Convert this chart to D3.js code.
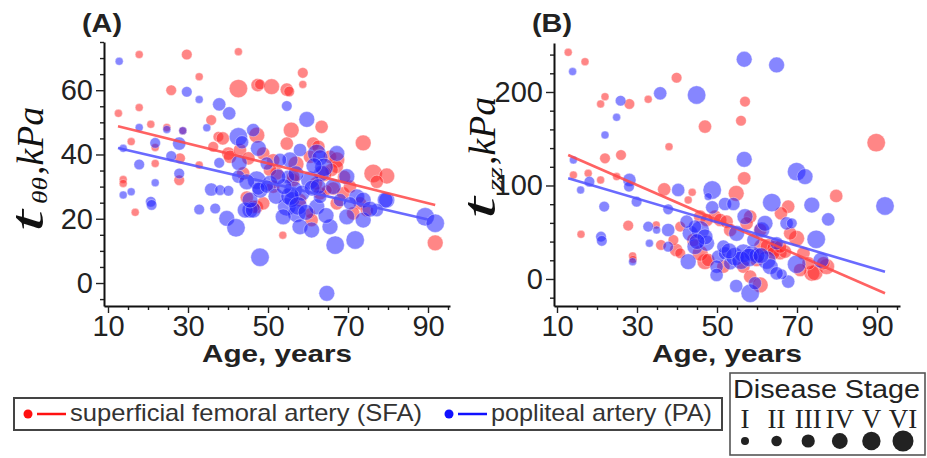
<!DOCTYPE html>
<html>
<head>
<meta charset="utf-8">
<script src="https://cdn.jsdelivr.net/npm/d3@7"></script>
<style>
  body { margin: 0; background: #fff; }
  svg { display: block; }
</style>
</head>
<body>
<svg id="chart" width="927" height="458"></svg>
<script>
/* global d3 */

// panel A: t_theta-theta (kPa) vs age, SFA
var ageA_SFA = [12.6, 17.8, 29.7, 42.6, 32.8, 25.8, 42.6, 47.4, 48.0, 50.9, 54.7, 55.3, 58.7, 58.7, 17.8, 20.7,
  24.7, 15.8, 21.8, 21.8, 13.8, 13.8, 16.8, 27.8, 28.0, 28.7, 35.8, 32.8, 37.6, 36.3, 38.7, 40.1, 40.5, 43.0,
  45.1, 44.7, 47.2, 47.2, 48.8, 55.8, 54.7, 63.4, 61.3, 73.8, 76.3, 79.7, 77.2, 91.8, 53.7, 51.3, 52.2, 50.5,
  60.5, 62.6, 65.5, 67.2, 67.2, 66.3, 63.0, 64.7, 68.8, 70.5, 73.0, 71.3, 74.7, 56.3, 56.3, 65.9, 60.9, 60.5,
  48.8, 46.3, 51.3, 58.0, 67.2, 43.8, 57.0, 64.0, 69.0, 62.0];
var tA_SFA = [52.8, 71.1, 71.1, 72.0, 64.2, 60.0, 60.5, 61.6, 61.8, 61.1, 60.2, 59.6, 65.4, 61.8, 54.6, 49.4,
  48.4, 44.0, 42.2, 37.2, 32.2, 31.0, 22.0, 32.0, 38.8, 47.4, 50.7, 36.7, 45.5, 42.4, 45.0, 40.3, 39.3, 41.4,
  38.8, 26.6, 23.7, 46.0, 40.3, 47.6, 43.4, 48.6, 43.4, 43.6, 34.1, 33.3, 31.5, 12.5, 14.9, 38.2, 34.1, 35.2,
  39.3, 42.4, 39.3, 38.3, 36.2, 29.4, 27.9, 28.9, 27.9, 30.0, 24.8, 21.7, 22.7, 32.0, 33.1, 35.2, 19.6, 21.7,
  24.8, 23.7, 30.0, 25.8, 24.8, 34.1, 37.0, 34.0, 33.0, 31.0];
var stageA_SFA = [1, 1, 2, 1, 1, 2, 5, 3, 2, 4, 3, 2, 2, 1, 1, 1,
  1, 1, 1, 1, 1, 1, 1, 2, 2, 1, 2, 1, 2, 2, 3, 3, 3, 3,
  3, 3, 3, 4, 3, 4, 3, 3, 3, 4, 5, 4, 3, 4, 1, 3, 3, 3,
  3, 3, 3, 4, 3, 3, 3, 2, 3, 3, 3, 3, 3, 3, 3, 3, 3, 2,
  3, 3, 3, 3, 3, 3, 4, 4, 3, 3];

// panel A, PA
var ageA_PA = [12.8, 29.7, 32.8, 37.8, 40.3, 54.7, 59.7, 13.8, 17.8, 17.8, 21.8, 21.8, 20.7, 20.9, 13.8, 15.8,
  24.7, 25.8, 27.8, 27.8, 28.7, 32.8, 34.7, 35.8, 36.8, 38.0, 40.1, 37.8, 39.7, 42.0, 42.6, 43.5, 42.8, 46.3,
  47.6, 45.5, 44.3, 48.0, 64.7, 66.8, 71.8, 89.3, 91.8, 79.7, 62.2, 63.0, 67.2, 58.0, 63.4, 69.7, 55.5, 53.0,
  49.7, 47.2, 50.5, 56.3, 60.5, 66.3, 72.2, 73.8, 79.3, 46.3, 54.7, 57.2, 53.8, 58.0, 62.2, 65.5, 69.7, 73.8,
  77.2, 60.9, 63.0, 68.0, 70.5, 45.5, 48.0, 42.6, 44.7, 47.6, 49.7, 56.0, 58.5, 61.0, 52.0, 55.0, 64.5, 75.5,
  55.5, 57.5, 59.5, 54.0, 62.5, 64.0, 61.5, 52.5, 57.0];
var tA_PA = [69.0, 59.5, 57.1, 55.6, 52.8, 55.1, 50.9, 41.9, 48.4, 36.9, 43.6, 31.2, 25.3, 24.3, 27.4, 28.4,
  47.8, 39.5, 43.4, 34.1, 47.4, 22.9, 48.3, 29.1, 23.2, 28.9, 28.7, 37.4, 20.1, 17.2, 45.5, 43.8, 37.4, 47.6,
  41.9, 22.7, 22.7, 8.0, -3.2, 11.8, 13.4, 20.6, 18.6, 25.8, 40.3, 39.0, 40.3, 41.4, 34.1, 33.1, 38.3, 38.3,
  37.2, 32.0, 31.0, 29.0, 32.0, 30.0, 26.8, 25.8, 25.8, 22.7, 23.7, 21.7, 20.6, 17.5, 23.7, 17.5, 20.6, 19.6,
  22.7, 16.5, 26.8, 25.8, 24.8, 25.8, 28.9, 33.1, 31.5, 29.4, 30.0, 26.0, 28.0, 29.5, 27.0, 33.0, 21.0, 23.0,
  27.0, 24.0, 22.0, 30.0, 30.0, 36.0, 36.5, 33.0, 34.0];
var stageA_PA = [1, 2, 1, 3, 3, 2, 4, 1, 1, 2, 2, 1, 2, 2, 1, 1,
  1, 2, 3, 2, 1, 2, 1, 3, 2, 2, 2, 2, 4, 5, 5, 3, 4, 3,
  4, 4, 4, 5, 4, 5, 5, 5, 5, 4, 5, 4, 4, 3, 4, 4, 4, 3,
  3, 5, 4, 5, 5, 4, 4, 4, 4, 4, 5, 5, 4, 4, 4, 4, 4, 4,
  3, 4, 3, 3, 3, 4, 4, 3, 4, 3, 3, 4, 4, 4, 4, 3, 4, 4,
  5, 5, 4, 4, 4, 5, 4, 4, 4];

// panel B: t_zz (kPa) vs age, SFA
var ageB_SFA = [12.8, 17.0, 20.9, 22.0, 28.1, 32.8, 39.9, 47.0, 57.0, 56.0, 56.8, 54.8, 89.8, 79.8, 67.8, 66.0,
  69.9, 73.7, 74.5, 77.4, 38.0, 22.0, 26.0, 14.1, 17.8, 20.9, 24.9, 16.0, 27.8, 28.9, 36.8, 43.8, 42.8, 36.0,
  34.8, 39.8, 40.8, 39.1, 47.0, 49.5, 45.8, 47.4, 50.8, 52.4, 53.3, 58.3, 57.4, 60.8, 61.2, 62.8, 64.5, 65.8,
  67.0, 64.1, 71.6, 72.9, 76.6, 70.8, 59.9, 56.6, 58.3, 45.8, 44.1, 40.8, 47.8, 51.6, 60.8, 68.3, 65.8, 29.0];
var tB_SFA = [242.4, 232.4, 187.2, 195.0, 187.2, 192.2, 215.3, 163.0, 189.7, 169.3, 107.7, 91.6, 145.8, 88.8, 77.4, 70.2,
  43.5, 6.1, 6.8, 13.2, 141.5, 129.0, 132.6, 111.2, 113.0, 105.9, 109.5, 47.8, 57.1, 24.6, 95.9, 92.7, 84.5, 36.4,
  57.8, 31.0, 56.0, 41.7, 18.5, 66.7, 66.7, 63.1, 63.1, 61.3, 52.4, 66.7, 59.5, 52.4, 34.6, 34.6, 32.8, 27.5,
  29.2, 27.5, 27.5, 16.8, 16.8, 9.6, 20.3, 13.2, 2.5, 27.5, 41.7, 27.5, 20.3, 13.2, -6.4, 48.8, 34.6, 21.0];
var stageB_SFA = [1, 1, 1, 1, 2, 1, 2, 3, 2, 2, 3, 4, 5, 3, 3, 3,
  4, 4, 4, 4, 1, 2, 2, 1, 1, 1, 1, 1, 2, 1, 3, 1, 1, 2,
  1, 3, 2, 2, 4, 3, 3, 3, 3, 3, 3, 3, 3, 3, 4, 4, 4, 3,
  3, 3, 3, 3, 3, 3, 3, 3, 3, 4, 3, 2, 3, 3, 4, 3, 3, 1];

// panel B, PA
var ageB_PA = [13.9, 25.9, 24.9, 22.0, 35.8, 44.9, 56.8, 64.9, 56.8, 14.1, 15.9, 18.1, 21.8, 21.0, 21.2, 28.1,
  28.0, 29.9, 28.9, 32.8, 34.9, 33.1, 37.8, 37.8, 37.8, 40.3, 48.8, 48.8, 47.8, 52.0, 54.1, 63.7, 69.9, 72.0,
  73.7, 77.8, 92.0, 74.8, 69.9, 67.4, 68.7, 42.8, 58.3, 54.8, 59.5, 67.8, 66.2, 43.3, 45.8, 44.5, 47.4, 50.3,
  52.0, 53.3, 54.5, 56.6, 58.7, 61.2, 62.0, 62.4, 63.3, 64.9, 54.9, 57.0, 59.1, 49.9, 49.9, 64.9, 51.6, 44.5,
  42.4, 76.0, 60.0, 47.0, 45.0, 56.0, 58.0, 61.0, 53.0];
var tB_PA = [221.8, 190.7, 172.9, 154.0, 198.6, 196.8, 235.0, 228.9, 128.0, 127.3, 95.2, 104.1, 77.4, 45.3, 40.8, 105.9,
  98.8, 82.7, 18.5, 56.0, 52.4, 38.2, 74.5, 52.4, 34.6, 95.2, 95.2, 76.6, 88.1, 80.2, 80.2, 81.7, 114.8, 109.5,
  79.1, 63.8, 78.1, 42.4, 15.7, 59.5, 59.5, 18.5, -15.3, -7.5, -4.6, -2.8, 5.0, 48.8, 52.4, 34.6, 38.2, 23.9,
  27.5, 16.8, 23.9, 27.5, 27.5, 52.4, 59.5, 20.3, 13.2, 38.2, 48.8, 66.7, 41.7, 13.2, 4.3, 6.1, 34.6, 56.0,
  61.3, 20.0, 25.0, 45.0, 40.0, 20.0, 23.0, 25.0, 30.0];
var stageB_PA = [1, 2, 1, 1, 3, 5, 4, 4, 4, 1, 1, 2, 2, 2, 2, 3,
  2, 2, 1, 2, 1, 1, 2, 3, 2, 3, 5, 3, 1, 3, 3, 5, 5, 4,
  4, 3, 5, 5, 5, 3, 2, 4, 5, 3, 3, 3, 2, 4, 5, 4, 4, 3,
  3, 3, 5, 5, 4, 4, 4, 5, 4, 3, 4, 4, 3, 3, 3, 3, 3, 3,
  3, 4, 4, 4, 4, 5, 5, 4, 4];

// linear fits [age, value] at both ends
var fitA_SFA = [[12.5, 48.8], [91.8, 24.3]];
var fitA_PA = [[12.5, 42.0], [90.5, 19.6]];
var fitB_SFA = [[12.8, 132.6], [92.0, -15.3]];
var fitB_PA = [[12.8, 107.7], [92.0, 7.8]];

var xTicks = [10, 30, 50, 70, 90];
var yTicksA = [0, 20, 40, 60];
var yTicksB = [0, 100, 200];
var seriesNames = ['superficial femoral artery (SFA)', 'popliteal artery (PA)'];
var stageLabels = ['I', 'II', 'III', 'IV', 'V', 'VI'];

var svg = d3.select('#chart');
var sans = '"Liberation Sans", Arial, sans-serif';
var serif = '"Liberation Serif", "Times New Roman", serif';

var fills = ['rgb(255,35,35)', 'rgb(35,35,255)'];
var lineColors = ['rgba(255,70,70,0.85)', 'rgba(80,80,255,0.85)'];

var r = d3.scaleLinear().domain([1, 6]).range([4, 10.5]);

function rows(ages, vals, stages) {
  return ages.map((a, i) => ({ age: a, v: vals[i], stage: stages[i] }));
}

function drawPanel(p) {
  var g = svg.append('g');

  var x = d3.scaleLinear().domain(p.xDomain).range(p.xRange);
  var y = d3.scaleLinear().domain(p.yDomain).range(p.yRange);

  // bubbles
  p.series.forEach(function(s, k) {
    g.append('g').selectAll('circle')
      .data(s)
      .enter().append('circle')
      .attr('cx', d => x(d.age))
      .attr('cy', d => y(d.v))
      .attr('r', d => r(d.stage))
      .style('fill', fills[k])
      .style('fill-opacity', 0.55)
      .style('stroke', 'rgba(255,255,255,0.45)')
      .style('stroke-width', 0.8);
  });

  // fit lines
  p.fits.forEach(function(f, k) {
    g.append('path')
      .datum(f)
      .attr('d', d3.line().x(d => x(d[0])).y(d => y(d[1])))
      .style('fill', 'none')
      .style('stroke', lineColors[k])
      .style('stroke-width', 2.6);
  });

  var xMinor = d3.range(10, 96, 5).filter(v => xTicks.indexOf(v) < 0);
  var yMinor = d3.range(p.yMinor[0], p.yMinor[1] + 0.1, p.yMinor[2]).filter(v => p.yTicks.indexOf(v) < 0);

  // minor ticks
  g.append('g')
    .attr('transform', `translate(0,${p.yRange[0]})`)
    .call(d3.axisBottom(x).tickValues(xMinor).tickSize(4).tickFormat(''))
    .call(a => a.select('.domain').remove());
  g.append('g')
    .attr('transform', `translate(${p.xRange[0]},0)`)
    .call(d3.axisLeft(y).tickValues(yMinor).tickSize(4).tickFormat(''))
    .call(a => a.select('.domain').remove());

  // x axis
  var xAxisGroup = g.append('g')
    .attr('transform', `translate(0,${p.yRange[0]})`)
    .call(d3.axisBottom(x).tickValues(xTicks).tickSize(7).tickSizeOuter(0).tickPadding(2));

  // y axis
  var yAxisGroup = g.append('g')
    .attr('transform', `translate(${p.xRange[0]},0)`)
    .call(d3.axisLeft(y).tickValues(p.yTicks).tickSize(8).tickSizeOuter(0).tickPadding(3));

  [xAxisGroup, yAxisGroup].forEach(function(a) {
    a.select('.domain').style('stroke', '#111').style('stroke-width', 2);
    a.selectAll('.tick text')
      .style('font-family', sans)
      .style('font-size', '29px')
      .style('fill', '#222');
  });
  g.selectAll('.tick line').style('stroke', '#222').style('stroke-width', 1.4);

  // x title
  g.append('text')
    .attr('x', p.xTitle[0])
    .attr('y', p.xTitle[1])
    .attr('text-anchor', 'middle')
    .attr('textLength', 150)
    .attr('lengthAdjust', 'spacingAndGlyphs')
    .style('font-family', sans)
    .style('font-weight', 'bold')
    .style('font-size', '24px')
    .style('fill', '#222')
    .text('Age, years');

  // panel letter
  g.append('text')
    .attr('x', p.letter[0])
    .attr('y', 32)
    .attr('text-anchor', 'middle')
    .attr('textLength', 40)
    .attr('lengthAdjust', 'spacingAndGlyphs')
    .style('font-family', sans)
    .style('font-weight', 'bold')
    .style('font-size', '26px')
    .style('fill', '#222')
    .text(p.letter[1]);

  // y title, italic serif with subscript
  var yt = g.append('g')
    .attr('transform', `translate(${p.yTitle[0]},${p.yTitle[1]}) rotate(-90)`)
    .style('font-family', serif)
    .style('font-style', 'italic')
    .style('fill', '#111');
  yt.append('text').attr('x', 8).attr('y', 0)
    .attr('textLength', 22).attr('lengthAdjust', 'spacingAndGlyphs')
    .style('font-size', '46px').text('t');
  yt.append('text').attr('x', 36).attr('y', p.subShift)
    .attr('textLength', p.subLen).attr('lengthAdjust', 'spacingAndGlyphs')
    .style('font-size', '21px').text(p.sub);
  yt.append('text').attr('x', 38 + p.subLen).attr('y', 0)
    .attr('textLength', 68).attr('lengthAdjust', 'spacingAndGlyphs')
    .style('font-size', '37px').text(',kPa');
}

drawPanel({
  xDomain: [9, 95.5], xRange: [104, 450],
  yDomain: [-7.15, 75], yRange: [306, 42],
  yTicks: yTicksA, yMinor: [-5, 75, 5],
  series: [rows(ageA_SFA, tA_SFA, stageA_SFA), rows(ageA_PA, tA_PA, stageA_PA)],
  fits: [fitA_SFA, fitA_PA],
  xTitle: [277, 362], letter: [102, '(A)'],
  yTitle: [43, 240], sub: 'θθ', subLen: 27, subShift: 4
});

drawPanel({
  xDomain: [9.25, 95.75], xRange: [554, 900],
  yDomain: [-28.9, 252.4], yRange: [306, 43],
  yTicks: yTicksB, yMinor: [-20, 240, 20],
  series: [rows(ageB_SFA, tB_SFA, stageB_SFA), rows(ageB_PA, tB_PA, stageB_PA)],
  fits: [fitB_SFA, fitB_PA],
  xTitle: [727, 362], letter: [552, '(B)'],
  yTitle: [495, 227], sub: 'zz', subLen: 24, subShift: 7
});

// series legend
var legend = svg.append('g');
legend.append('rect')
  .attr('x', 14).attr('y', 398).attr('width', 708).attr('height', 32)
  .style('fill', 'none').style('stroke', '#444').style('stroke-width', 2);

var legendX = [28, 449];
var legendLen = [352, 221];
var legendSolid = ['#ff1010', '#1010ff'];
seriesNames.forEach(function(name, i) {
  var lx = legendX[i];
  legend.append('circle').attr('cx', lx).attr('cy', 414).attr('r', 4.5).style('fill', legendSolid[i]);
  legend.append('line')
    .attr('x1', lx + 9).attr('x2', lx + 38).attr('y1', 414).attr('y2', 414)
    .style('stroke', legendSolid[i]).style('stroke-width', 2.5);
  legend.append('text')
    .attr('x', lx + 42).attr('y', 421)
    .attr('textLength', legendLen[i]).attr('lengthAdjust', 'spacingAndGlyphs')
    .style('font-family', sans).style('font-size', '24px').style('fill', '#333')
    .text(name);
});

// disease stage legend
var stage = svg.append('g');
stage.append('rect')
  .attr('x', 730).attr('y', 373).attr('width', 195).attr('height', 82)
  .style('fill', 'none').style('stroke', '#555').style('stroke-width', 1.6);
stage.append('text')
  .attr('x', 733).attr('y', 398)
  .attr('textLength', 187).attr('lengthAdjust', 'spacingAndGlyphs')
  .style('font-family', sans).style('font-size', '25px').style('fill', '#222')
  .text('Disease Stage');

var sx = d3.scalePoint().domain(stageLabels).range([745, 903]);
stage.selectAll('text.num')
  .data(stageLabels)
  .enter().append('text')
  .attr('class', 'num')
  .attr('x', d => sx(d))
  .attr('y', 428)
  .attr('text-anchor', 'middle')
  .style('font-family', serif).style('font-size', '27px').style('fill', '#222')
  .text(d => d);
stage.selectAll('circle')
  .data(stageLabels)
  .enter().append('circle')
  .attr('cx', d => sx(d))
  .attr('cy', 441)
  .attr('r', (d, i) => r(i + 1))
  .style('fill', '#222');
</script>
</body>
</html>
